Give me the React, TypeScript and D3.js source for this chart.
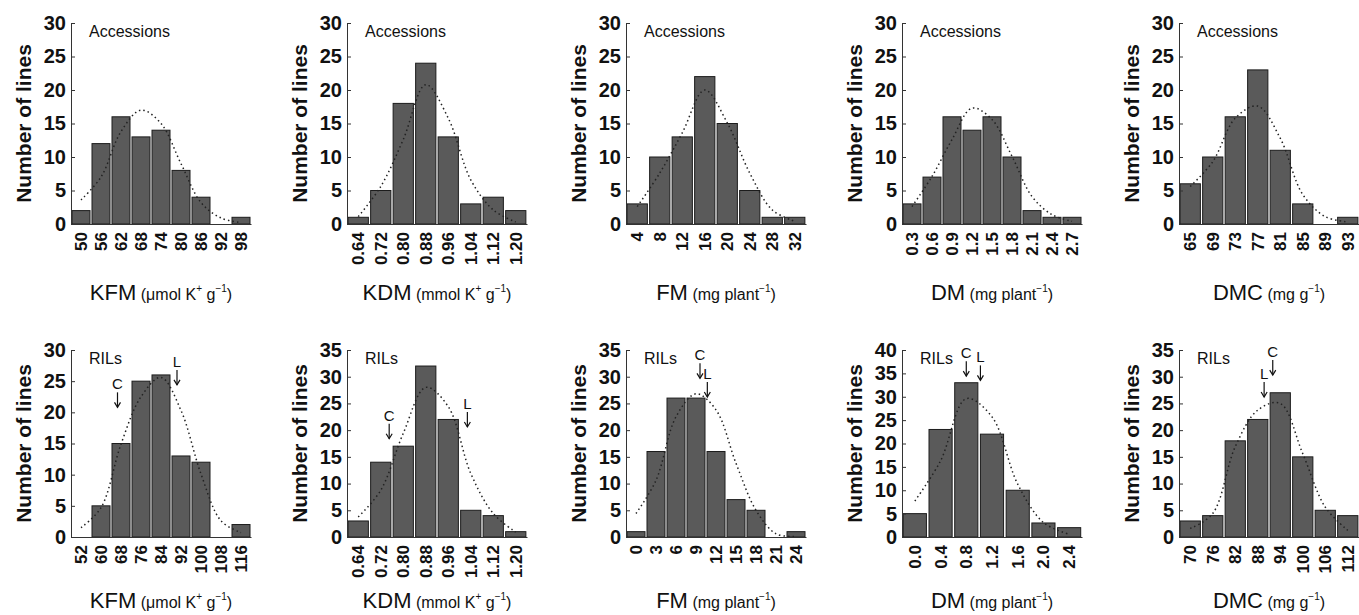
import { useRef, useEffect } from "react";
import * as d3 from "d3";

// top row: accessions
const kfmAccBins = ["50", "56", "62", "68", "74", "80", "86", "92", "98"];
const kfmAccCounts = [2, 12, 16, 13, 14, 8, 4, 0, 1];
const kfmAccFit = [3.6, 7, 13.8, 17, 15, 9, 3.2, 0.9, 0.2];

const kdmAccBins = ["0.64", "0.72", "0.80", "0.88", "0.96", "1.04", "1.12", "1.20"];
const kdmAccCounts = [1, 5, 18, 24, 13, 3, 4, 2];
const kdmAccFit = [1.1, 5.6, 12.6, 20.8, 15.8, 6.6, 2.1, 0.3];

const fmAccBins = ["4", "8", "12", "16", "20", "24", "28", "32"];
const fmAccCounts = [3, 10, 13, 22, 15, 5, 1, 1];
const fmAccFit = [2.6, 7.6, 13.6, 20, 15.1, 7.6, 2.1, 0.4];

const dmAccBins = ["0.3", "0.6", "0.9", "1.2", "1.5", "1.8", "2.1", "2.4", "2.7"];
const dmAccCounts = [3, 7, 16, 14, 16, 10, 2, 1, 1];
const dmAccFit = [2.6, 7.1, 12.6, 17.3, 15.6, 10.1, 4.1, 1.4, 0.4];

const dmcAccBins = ["65", "69", "73", "77", "81", "85", "89", "93"];
const dmcAccCounts = [6, 10, 16, 23, 11, 3, 0, 1];
const dmcAccFit = [5.6, 9.3, 15.8, 17.6, 12.8, 4.4, 1.1, 0.3];

// bottom row: RILs
const kfmRilBins = ["52", "60", "68", "76", "84", "92", "100", "108", "116"];
const kfmRilCounts = [0, 5, 15, 25, 26, 13, 12, 0, 2];
const kfmRilFit = [1.5, 4.7, 14.9, 22.5, 25.6, 20.3, 10.1, 2.6, 0.7];
const kfmRilParents = [
  { name: "C", value: 66.6, count: 20.8 },
  { name: "L", value: 90.4, count: 24.4 },
];

const kdmRilBins = ["0.64", "0.72", "0.80", "0.88", "0.96", "1.04", "1.12", "1.20"];
const kdmRilCounts = [3, 14, 17, 32, 22, 5, 4, 1];
const kdmRilFit = [3.75, 8.75, 19.4, 28, 24.4, 11.9, 4.4, 0.9];
const kdmRilParents = [
  { name: "C", value: 0.75, count: 18.4 },
  { name: "L", value: 1.028, count: 20.6 },
];

const fmRilBins = ["0", "3", "6", "9", "12", "15", "18", "21", "24"];
const fmRilCounts = [1, 16, 26, 26, 16, 7, 5, 0, 1];
const fmRilFit = [4.4, 10.6, 22.5, 26.8, 23.8, 13.8, 5, 0.6, 0.1];
const fmRilParents = [
  { name: "C", value: 9.6, count: 29.7 },
  { name: "L", value: 10.7, count: 26.2 },
];

const dmRilBins = ["0.0", "0.4", "0.8", "1.2", "1.6", "2.0", "2.4"];
const dmRilCounts = [5, 23, 33, 22, 10, 3, 2];
const dmRilFit = [7.7, 16.3, 29.6, 25.7, 11.3, 3.1, 0.6];
const dmRilParents = [
  { name: "C", value: 0.8, count: 34.4 },
  { name: "L", value: 1.02, count: 33.5 },
];

const dmcRilBins = ["70", "76", "82", "88", "94", "100", "106", "112"];
const dmcRilCounts = [3, 4, 18, 22, 27, 15, 5, 4];
const dmcRilFit = [1.6, 4.4, 16.9, 23.75, 25, 15.6, 5.6, 1.25];
const dmcRilParents = [
  { name: "L", value: 89.7, count: 26.2 },
  { name: "C", value: 92.0, count: 30.3 },
];

const yMaxTop = [30, 30, 30, 30, 30];
const yMaxBottom = [30, 35, 35, 40, 35];

// axis titles: [trait, unit before sup1, sup1, unit mid, sup2]
const titles = [
  ["KFM", " (μmol K", "+", " g", "−1"],
  ["KDM", " (mmol K", "+", " g", "−1"],
  ["FM", " (mg plant", "", "", "−1"],
  ["DM", " (mg plant", "", "", "−1"],
  ["DMC", " (mg g", "", "", "−1"],
];

const colX = [71, 347, 626, 902, 1179];
const plotW = 180;
const rowGeom = [
  { top: 23, bottom: 224, titleY: 300, label: "Accessions" },
  { top: 350, bottom: 537, titleY: 608, label: "RILs" },
];
const font = "'Liberation Sans', Arial, sans-serif";

type Parent = { name: string; value: number; count: number };
type Panel = {
  bins: string[];
  counts: number[];
  fit: number[];
  parents: Parent[];
  yMax: number;
  col: number;
  row: number;
};

const panels: Panel[] = [
  { bins: kfmAccBins, counts: kfmAccCounts, fit: kfmAccFit, parents: [], yMax: yMaxTop[0], col: 0, row: 0 },
  { bins: kdmAccBins, counts: kdmAccCounts, fit: kdmAccFit, parents: [], yMax: yMaxTop[1], col: 1, row: 0 },
  { bins: fmAccBins, counts: fmAccCounts, fit: fmAccFit, parents: [], yMax: yMaxTop[2], col: 2, row: 0 },
  { bins: dmAccBins, counts: dmAccCounts, fit: dmAccFit, parents: [], yMax: yMaxTop[3], col: 3, row: 0 },
  { bins: dmcAccBins, counts: dmcAccCounts, fit: dmcAccFit, parents: [], yMax: yMaxTop[4], col: 4, row: 0 },
  { bins: kfmRilBins, counts: kfmRilCounts, fit: kfmRilFit, parents: kfmRilParents, yMax: yMaxBottom[0], col: 0, row: 1 },
  { bins: kdmRilBins, counts: kdmRilCounts, fit: kdmRilFit, parents: kdmRilParents, yMax: yMaxBottom[1], col: 1, row: 1 },
  { bins: fmRilBins, counts: fmRilCounts, fit: fmRilFit, parents: fmRilParents, yMax: yMaxBottom[2], col: 2, row: 1 },
  { bins: dmRilBins, counts: dmRilCounts, fit: dmRilFit, parents: dmRilParents, yMax: yMaxBottom[3], col: 3, row: 1 },
  { bins: dmcRilBins, counts: dmcRilCounts, fit: dmcRilFit, parents: dmcRilParents, yMax: yMaxBottom[4], col: 4, row: 1 },
];

const App = () => {
  const ref = useRef<SVGSVGElement>(null);

  useEffect(() => {
    const svg = d3.select(ref.current);
    svg.selectAll("*").remove();

    panels.forEach((p) => {
      const geom = rowGeom[p.row];
      const h = geom.bottom - geom.top;
      const g = svg
        .append("g")
        .attr("transform", `translate(${colX[p.col]},${geom.top})`);

      const x = d3
        .scaleBand()
        .domain(p.bins)
        .range([0, plotW])
        .paddingInner(0.1)
        .paddingOuter(0.05);
      const y = d3.scaleLinear().domain([0, p.yMax]).range([h, 0]);
      const bw = x.bandwidth();
      const first = p.bins[0];
      const last = p.bins[p.bins.length - 1];
      // parent values sit on a continuous axis through the bin centres
      const xv = d3
        .scaleLinear()
        .domain([+first, +last])
        .range([(x(first) as number) + bw / 2, (x(last) as number) + bw / 2]);

      // bars
      g.append("g")
        .selectAll("rect")
        .data(p.counts)
        .enter()
        .append("rect")
        .attr("x", (_, i) => x(p.bins[i]) as number)
        .attr("y", (d) => y(d))
        .attr("width", bw)
        .attr("height", (d) => h - y(d))
        .attr("fill", "#5a5a5a")
        .attr("stroke", "#1c1c1c")
        .attr("stroke-width", 1);

      // fitted normal curve (dotted)
      const line = d3
        .line<number>()
        .x((_, i) => (x(p.bins[i]) as number) + bw / 2)
        .y((d) => y(d))
        .curve(d3.curveCatmullRom);
      g.append("path")
        .attr("d", line(p.fit))
        .attr("fill", "none")
        .attr("stroke", "#222")
        .attr("stroke-width", 1.5)
        .attr("stroke-dasharray", "1.5,3");

      // y axis
      const yAxis = d3
        .axisLeft(y)
        .tickValues(d3.range(0, p.yMax + 1, 5))
        .tickSizeInner(-4)
        .tickSizeOuter(0)
        .tickPadding(5);
      const ya = g.append("g").call(yAxis);
      ya.select(".domain").attr("stroke", "#333");
      ya.selectAll(".tick line").attr("stroke", "#333");
      ya.selectAll("text")
        .attr("font-family", font)
        .attr("font-size", 20)
        .attr("font-weight", "bold")
        .attr("fill", "#111");

      // x axis
      const xAxis = d3.axisBottom(x).tickSize(0).tickSizeOuter(0);
      const xa = g.append("g").attr("transform", `translate(0,${h})`).call(xAxis);
      xa.select(".domain").attr("stroke", "#333");
      xa.selectAll("text")
        .attr("font-family", font)
        .attr("font-size", 17)
        .attr("font-weight", "bold")
        .attr("fill", "#111")
        .attr("transform", "rotate(-90)")
        .attr("text-anchor", "end")
        .attr("x", -8)
        .attr("y", 0)
        .attr("dy", "0.35em");

      // y title
      g.append("text")
        .attr("transform", `translate(-47,${h / 2}) rotate(-90)`)
        .attr("text-anchor", "middle")
        .attr("dy", "0.35em")
        .attr("font-family", font)
        .attr("font-size", 21)
        .attr("font-weight", "bold")
        .attr("fill", "#111")
        .text("Number of lines");

      // group label
      g.append("text")
        .attr("x", 18)
        .attr("y", 14)
        .attr("font-family", font)
        .attr("font-size", 16)
        .attr("fill", "#111")
        .text(geom.label);

      // x title
      const t = titles[p.col];
      const tt = g
        .append("text")
        .attr("x", plotW / 2)
        .attr("y", geom.titleY - geom.top)
        .attr("text-anchor", "middle")
        .attr("font-family", font)
        .attr("fill", "#111");
      tt.append("tspan").attr("font-size", 22).text(t[0]);
      tt.append("tspan").attr("font-size", 16).text(t[1]);
      if (t[2]) {
        tt.append("tspan").attr("font-size", 10).attr("dy", -8).text(t[2]);
        tt.append("tspan").attr("font-size", 16).attr("dy", 8).text(t[3]);
      }
      tt.append("tspan").attr("font-size", 10).attr("dy", -8).text(t[4]);
      tt.append("tspan").attr("font-size", 16).attr("dy", 8).text(")");

      // parent arrows
      p.parents.forEach((par) => {
        const ax = xv(par.value);
        const ty = y(par.count);
        g.append("line")
          .attr("x1", ax)
          .attr("x2", ax)
          .attr("y1", ty - 15)
          .attr("y2", ty)
          .attr("stroke", "#111")
          .attr("stroke-width", 1.2);
        g.append("path")
          .attr("d", `M${ax - 3},${ty - 5}L${ax},${ty}L${ax + 3},${ty - 5}`)
          .attr("fill", "none")
          .attr("stroke", "#111")
          .attr("stroke-width", 1.2);
        g.append("text")
          .attr("x", ax)
          .attr("y", ty - 18)
          .attr("text-anchor", "middle")
          .attr("font-family", font)
          .attr("font-size", 15)
          .attr("fill", "#111")
          .text(par.name);
      });
    });
  }, []);

  return (
    <svg
      ref={ref}
      width={1359}
      height={615}
      style={{ position: "absolute", left: 0, top: 0, background: "#fff" }}
    />
  );
};

export default App;
